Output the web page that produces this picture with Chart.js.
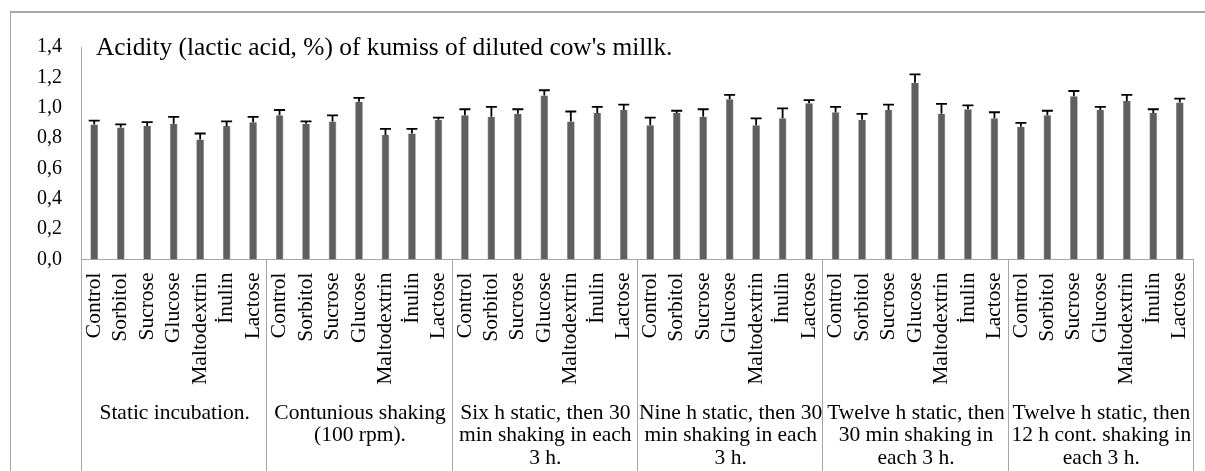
<!DOCTYPE html>
<html>
<head>
<meta charset="utf-8">
<script src="https://cdn.jsdelivr.net/npm/chart.js@4/dist/chart.umd.min.js"></script>
<style>
  html, body { margin: 0; padding: 0; background: #fff; }
  #wrap { width: 1205px; height: 471px; position: relative; }
  .probe { font-family: "Liberation Serif"; position: absolute; left: -9999px; }
</style>
</head>
<body>
<span class="probe">Acidity 0,1</span>
<div id="wrap"><canvas id="c" width="1205" height="471"></canvas></div>
<script>
// ---- data ----
const substances = ['Control', 'Sorbitol', 'Sucrose', 'Glucose', 'Maltodextrin', 'İnulin', 'Lactose'];
const groupNames = [
  ['Static incubation.'],
  ['Contunious shaking', '(100 rpm).'],
  ['Six h static, then 30', 'min shaking in each', '3 h.'],
  ['Nine h static, then 30', 'min shaking in each', '3 h.'],
  ['Twelve h static, then', '30 min shaking in', 'each 3 h.'],
  ['Twelve h static, then', '12 h cont. shaking in', 'each 3 h.']
];
const staticVals     = [0.89, 0.87, 0.88, 0.895, 0.79, 0.88, 0.905];
const staticErr      = [0.025, 0.02, 0.025, 0.045, 0.04, 0.03, 0.035];
const contVals       = [0.95, 0.895, 0.91, 1.04, 0.82, 0.83, 0.92];
const contErr        = [0.035, 0.015, 0.04, 0.025, 0.04, 0.03, 0.015];
const sixVals        = [0.95, 0.94, 0.96, 1.08, 0.91, 0.965, 0.985];
const sixErr         = [0.04, 0.065, 0.03, 0.035, 0.065, 0.04, 0.035];
const nineVals       = [0.885, 0.965, 0.94, 1.055, 0.885, 0.93, 1.03];
const nineErr        = [0.05, 0.015, 0.05, 0.03, 0.045, 0.065, 0.02];
const twelveVals     = [0.97, 0.92, 0.985, 1.165, 0.96, 0.99, 0.93];
const twelveErr      = [0.035, 0.04, 0.035, 0.055, 0.065, 0.025, 0.04];
const twelveContVals = [0.875, 0.95, 1.075, 0.985, 1.045, 0.965, 1.035];
const twelveContErr  = [0.025, 0.03, 0.035, 0.02, 0.04, 0.025, 0.025];
const yTicks = [0, 0.2, 0.4, 0.6, 0.8, 1.0, 1.2, 1.4];
const titleText = "Acidity (lactic acid, %) of kumiss of diluted cow's millk.";

const allVals = [].concat(staticVals, contVals, sixVals, nineVals, twelveVals, twelveContVals);
const allErr = [].concat(staticErr, contErr, sixErr, nineErr, twelveErr, twelveContErr);
const labels = [];
groupNames.forEach(() => substances.forEach(s => labels.push(s)));

const FONT = "'Liberation Serif', 'Times New Roman', 'DejaVu Serif', serif";
const LINE = '#a6a6a6';

const decor = {
  id: 'decor',
  beforeDraw(chart) {
    const ctx = chart.ctx;
    ctx.save();
    ctx.fillStyle = '#fff';
    ctx.fillRect(0, 0, chart.width, chart.height);
    ctx.strokeStyle = LINE;
    ctx.lineWidth = 2;
    ctx.beginPath();
    ctx.moveTo(10, 12); ctx.lineTo(1205, 12);
    ctx.stroke();
    ctx.lineWidth = 1;
    ctx.beginPath();
    ctx.moveTo(10.5, 12); ctx.lineTo(10.5, 471);
    ctx.stroke();
    ctx.restore();
  },
  afterDraw(chart) {
    const ctx = chart.ctx;
    const xs = chart.scales.x;
    const bottom = chart.chartArea.bottom;
    const n = groupNames.length;
    const gw = (xs.right - xs.left) / n;
    ctx.save();
    ctx.strokeStyle = LINE;
    ctx.lineWidth = 1;
    for (let k = 0; k <= n; k++) {
      const x = Math.round(xs.left + k * gw) + 0.5;
      ctx.beginPath();
      ctx.moveTo(x, bottom);
      ctx.lineTo(x, chart.height);
      ctx.stroke();
    }
    ctx.fillStyle = '#000';
    ctx.font = '21.5px ' + FONT;
    ctx.textAlign = 'center';
    ctx.textBaseline = 'alphabetic';
    groupNames.forEach((lines, k) => {
      const cx = xs.left + (k + 0.5) * gw + 1;
      lines.forEach((t, i) => ctx.fillText(t, cx, 418.5 + i * 22.8));
    });
    ctx.textAlign = 'left';
    ctx.font = '25.4px ' + FONT;
    ctx.fillText(titleText, 96, 55);
    ctx.restore();
  }
};

const errorBars = {
  id: 'errorBars',
  afterDatasetsDraw(chart) {
    const ctx = chart.ctx;
    const meta = chart.getDatasetMeta(0);
    const ys = chart.scales.y;
    ctx.save();
    ctx.strokeStyle = '#000';
    ctx.lineWidth = 1.8;
    meta.data.forEach((bar, i) => {
      const v = allVals[i], e = allErr[i];
      const yTop = ys.getPixelForValue(v + e);
      const yBar = ys.getPixelForValue(v);
      ctx.beginPath();
      ctx.moveTo(bar.x, yBar);
      ctx.lineTo(bar.x, yTop);
      ctx.moveTo(bar.x - 5.5, yTop);
      ctx.lineTo(bar.x + 5.5, yTop);
      ctx.stroke();
    });
    ctx.restore();
  }
};

function build() {
  new Chart(document.getElementById('c'), {
    type: 'bar',
    data: {
      labels: labels,
      datasets: [{
        data: allVals,
        backgroundColor: '#5f5f5f',
        borderColor: '#7a7a7a',
        borderWidth: { left: 0.6, right: 0.6, top: 0, bottom: 0 },
        barPercentage: 0.29,
        categoryPercentage: 1.0
      }]
    },
    options: {
      responsive: false,
      animation: false,
      events: [],
      layout: { padding: { top: 47, right: 12, left: 0, bottom: 0 } },
      plugins: { legend: { display: false }, title: { display: false }, tooltip: { enabled: false } },
      scales: {
        x: {
          grid: { display: false, drawTicks: false },
          border: { display: true, color: LINE, width: 1 },
          ticks: {
            autoSkip: false, maxRotation: 90, minRotation: 90,
            padding: 13, color: '#000',
            font: { family: FONT, size: 21.5 }
          },
          afterFit(s) { s.height = 211.5; s.paddingLeft = 0; s.paddingRight = 0; }
        },
        y: {
          min: 0, max: 1.4,
          afterBuildTicks(s) { s.ticks = yTicks.map(v => ({ value: v })); },
          grid: { display: false, drawTicks: false },
          border: { display: true, color: LINE, width: 1 },
          ticks: {
            padding: 19, color: '#000',
            font: { family: FONT, size: 20 },
            callback: v => Number(v).toFixed(1).replace('.', ',')
          },
          afterFit(s) { s.width = 81; s.paddingTop = 0; s.paddingBottom = 0; }
        }
      }
    },
    plugins: [decor, errorBars]
  });
}

if (document.fonts && document.fonts.load) {
  Promise.all([
    document.fonts.load("20px 'Liberation Serif'"),
    document.fonts.load("25px 'Liberation Serif'")
  ]).then(build, build);
} else {
  build();
}
</script>
</body>
</html>
